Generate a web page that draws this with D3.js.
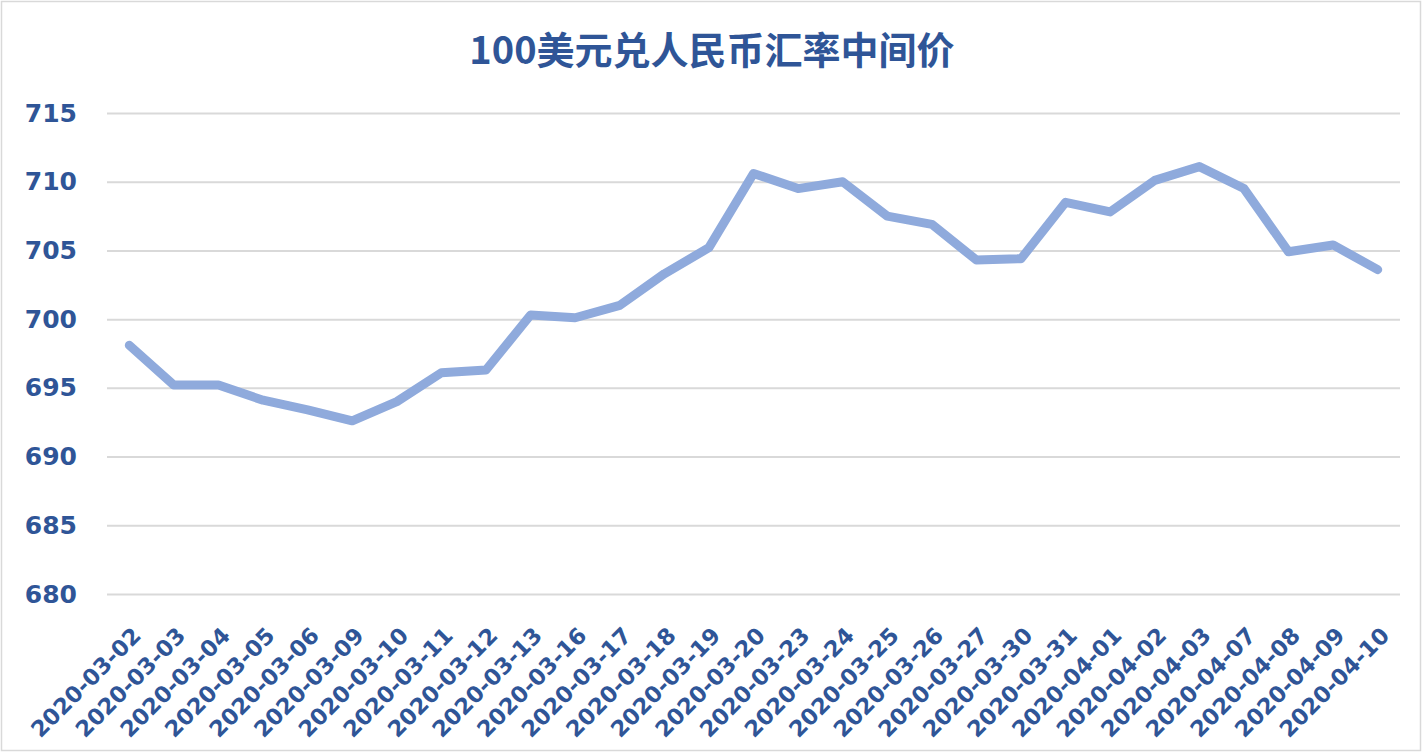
<!DOCTYPE html>
<html>
<head>
<meta charset="utf-8">
<script src="https://cdn.jsdelivr.net/npm/d3@7"></script>
<style>
  body { margin: 0; background: #fff; }
  svg { display: block; }
</style>
</head>
<body>
<div id="chart"></div>
<script>
// dates on the category axis
var dates = [
  "2020-03-02", "2020-03-03", "2020-03-04", "2020-03-05", "2020-03-06",
  "2020-03-09", "2020-03-10", "2020-03-11", "2020-03-12", "2020-03-13",
  "2020-03-16", "2020-03-17", "2020-03-18", "2020-03-19", "2020-03-20",
  "2020-03-23", "2020-03-24", "2020-03-25", "2020-03-26", "2020-03-27",
  "2020-03-30", "2020-03-31", "2020-04-01", "2020-04-02", "2020-04-03",
  "2020-04-07", "2020-04-08", "2020-04-09", "2020-04-10"
];
// middle rate, CNY per 100 USD
var rates = [
  698.1, 695.2, 695.2, 694.1, 693.4,
  692.6, 694.0, 696.1, 696.3, 700.3,
  700.1, 701.0, 703.3, 705.2, 710.6,
  709.5, 710.0, 707.5, 706.9, 704.3,
  704.4, 708.5, 707.8, 710.1, 711.1,
  709.5, 704.9, 705.4, 703.6
];
var yTicks = [680, 685, 690, 695, 700, 705, 710, 715];
var title = "100美元兑人民币汇率中间价";

var data = dates.map(function (d, i) { return { date: d, rate: rates[i] }; });

var width = 1422,
    height = 752,
    margin = { top: 113, right: 22, bottom: 158, left: 107 },
    innerWidth = width - margin.left - margin.right,
    innerHeight = height - margin.top - margin.bottom,
    textColor = "#2F5597";

var svg = d3.select("#chart").append("svg")
    .attr("width", width)
    .attr("height", height);

// outer chart border
svg.append("rect")
    .attr("x", 1.5).attr("y", 1.5)
    .attr("width", width - 3).attr("height", height - 3)
    .attr("fill", "#fff")
    .attr("stroke", "#D9D9D9")
    .attr("stroke-width", 1.5);

svg.append("text")
    .attr("x", 712)
    .attr("y", 64)
    .attr("text-anchor", "middle")
    .attr("font-family", "'Noto Sans CJK SC', 'Noto Sans'")
    .attr("font-weight", "bold")
    .attr("font-size", "38px")
    .attr("fill", textColor)
    .text(title);

var g = svg.append("g")
    .attr("transform", "translate(" + margin.left + "," + margin.top + ")");

var xScale = d3.scaleBand()
    .domain(dates)
    .range([0, innerWidth]);

var yScale = d3.scaleLinear()
    .domain([680, 715])
    .range([innerHeight, 0]);

var xValue = function (d) { return xScale(d.date) + xScale.bandwidth() / 2; };

// horizontal gridlines + y labels
var yAxis = g.append("g")
    .attr("class", "y axis")
    .call(d3.axisLeft(yScale).tickValues(yTicks).tickSize(-innerWidth).tickPadding(30).tickFormat(d3.format("d")));
yAxis.select(".domain").remove();
yAxis.selectAll(".tick line")
    .attr("stroke", "#D9D9D9")
    .attr("stroke-width", 2);
yAxis.selectAll(".tick text")
    .attr("font-family", "'DejaVu Sans'")
    .attr("font-weight", "bold")
    .attr("font-size", "25px")
    .attr("fill", textColor);

// category labels, rotated
var xAxis = g.append("g")
    .attr("class", "x axis")
    .attr("transform", "translate(0," + innerHeight + ")")
    .call(d3.axisBottom(xScale).tickSize(0).tickPadding(0));
xAxis.select(".domain").remove();
xAxis.selectAll(".tick text")
    .attr("font-family", "'DejaVu Sans'")
    .attr("font-weight", "bold")
    .attr("font-size", "22.5px")
    .attr("fill", textColor)
    .attr("text-anchor", "end")
    .attr("dy", null)
    .attr("y", null)
    .attr("transform", "translate(13,43) rotate(-45)");

var line = d3.line()
    .x(xValue)
    .y(function (d) { return yScale(d.rate); });

g.append("path")
    .datum(data)
    .attr("fill", "none")
    .attr("stroke", "#8FAADC")
    .attr("stroke-width", 9)
    .attr("stroke-linecap", "round")
    .attr("stroke-linejoin", "round")
    .attr("d", line);
</script>
</body>
</html>
